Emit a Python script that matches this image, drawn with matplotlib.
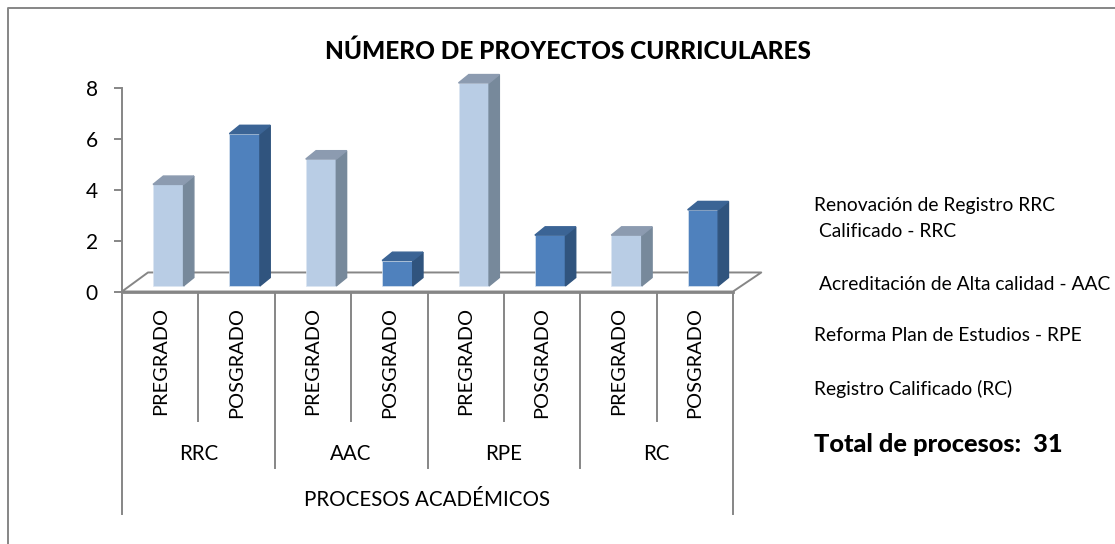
import matplotlib
matplotlib.use("Agg")
import matplotlib.pyplot as plt
from matplotlib.lines import Line2D

plt.rcParams['font.family'] = ['Lato', 'DejaVu Sans']

# Data
PROCESSES = ["RRC", "AAC", "RPE", "RC"]
LEVELS = ["PREGRADO", "POSGRADO"]
VALUES = [4, 6, 5, 1, 8, 2, 2, 3]
Y_TICKS = [0, 2, 4, 6, 8]
NOTES = [
    (814, 205.5, "Renovación de Registro RRC"),
    (819, 231.5, "Calificado - RRC"),
    (819, 284.5, "Acreditación de Alta calidad - AAC"),
    (814, 335.5, "Reforma Plan de Estudios - RPE"),
    (814, 388.5, "Registro Calificado (RC)"),
]

FRONT = {"PREGRADO": "#b9cde5", "POSGRADO": "#4f81bd"}
TOP = {"PREGRADO": "#8c9bb0", "POSGRADO": "#3b6495"}
SIDE = {"PREGRADO": "#77899b", "POSGRADO": "#30547e"}
AXIS_COLOR = "#868686"

W, H = 1115, 544
fig = plt.figure(figsize=(W / 100, H / 100), dpi=100)


def fx(px):
    return px / W


def fy(py):
    return 1 - py / H


def fig_line(xs, ys, lw=1.4):
    fig.add_artist(Line2D([fx(x) for x in xs], [fy(y) for y in ys],
                          color=AXIS_COLOR, lw=lw))


# Outer frame, only the left and top edges are inside the picture
fig_line([7.5, 7.5, W], [H, 8, 8])

# Plot area: 0 at the front edge of the floor, 8 categories across
ax = fig.add_axes([fx(122), fy(291.5), fx(733 - 122), fy(88.5) - fy(291.5)])
ax.set_xlim(0, len(VALUES))
ax.set_ylim(0, 8)
ax.patch.set_alpha(0)
for name in ["top", "right", "bottom"]:
    ax.spines[name].set_visible(False)
ax.spines["left"].set_color(AXIS_COLOR)
ax.spines["left"].set_linewidth(1.4)
ax.set_xticks([])
ax.set_yticks(Y_TICKS)
ax.tick_params(axis="y", length=6, width=1.4, color=AXIS_COLOR, labelsize=15, pad=11.5)

# Depth of the fake 3D look, in axis units
BASE = 0.22
BAR_W = 0.4
BAR_OFFSET = 0.406
DX = 0.135
DY = 0.33
FLOOR_DX = 0.34
FLOOR_DY = 0.75

# Floor
ax.plot([0, len(VALUES)], [0, 0], color=AXIS_COLOR, lw=2, clip_on=False)
ax.plot([0, FLOOR_DX, len(VALUES) + FLOOR_DX + 0.03, len(VALUES), 0],
        [0, FLOOR_DY, FLOOR_DY, 0, 0], color=AXIS_COLOR, lw=1.4, clip_on=False)

# Bars
for i, value in enumerate(VALUES):
    level = LEVELS[i % 2]
    left = i + BAR_OFFSET
    right = left + BAR_W
    top = BASE + value
    ax.bar(left, value, width=BAR_W, bottom=BASE, align="edge",
           color=FRONT[level], edgecolor="#dbe5f1", linewidth=0.5, zorder=3, clip_on=False)
    ax.fill([right, right + DX, right + DX, right],
            [BASE, BASE + DY, top + DY, top], color=SIDE[level], zorder=3, clip_on=False)
    ax.fill([left, left + DX, right + DX, right],
            [top, top + DY, top + DY, top], color=TOP[level], zorder=3, clip_on=False)

# Multi-level category axis below the plot
PX_STEP = (733 - 122) / len(VALUES)
for i in range(len(VALUES) + 1):
    px = 122 + i * PX_STEP
    if i in (0, len(VALUES)):
        bottom = 514
    elif i % 2 == 0:
        bottom = 468
    else:
        bottom = 421
    fig_line([px, px], [291.5, bottom])
for i, value in enumerate(VALUES):
    fig.text(fx(122 + (i + 0.5) * PX_STEP), fy(306.5), LEVELS[i % 2], rotation=90,
             ha="center", va="top", fontsize=14.4)
for i, name in enumerate(PROCESSES):
    fig.text(fx(122 + (2 * i + 1) * PX_STEP), fy(453.5), name, ha="center", va="center", fontsize=14.8)
fig.text(fx(427.5), fy(499.5), "PROCESOS ACADÉMICOS", ha="center", va="center", fontsize=14.8)

# Title and notes
fig.text(fx(568), fy(51), "NÚMERO DE PROYECTOS CURRICULARES", ha="center", va="center",
         fontsize=17.6, fontweight=900)
for px, py, note in NOTES:
    fig.text(fx(px), fy(py), note, ha="left", va="center", fontsize=13.9)
fig.text(fx(814), fy(445), "Total de procesos:  31", ha="left", va="center",
         fontsize=18.3, fontweight=900)

fig.savefig("out.png", dpi=100)
